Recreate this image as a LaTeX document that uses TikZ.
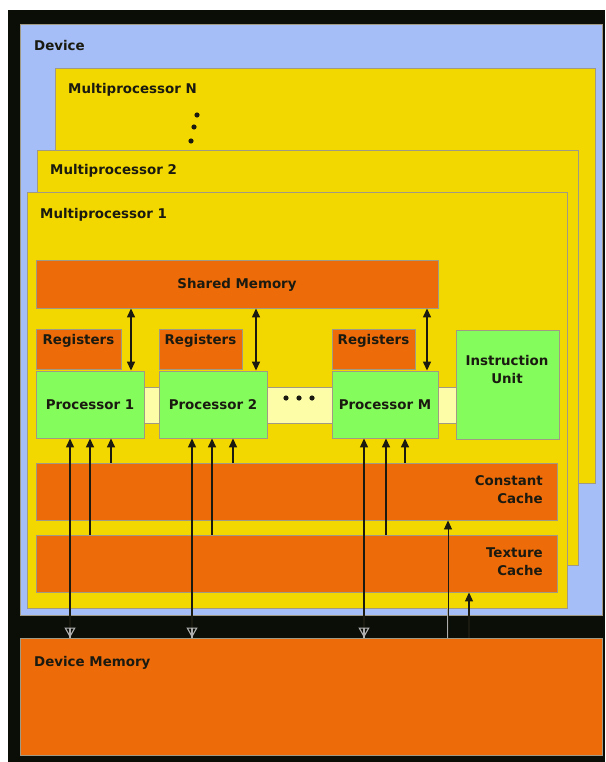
\documentclass[tikz,border=0pt]{standalone}
\usepackage{fontspec}
\setmainfont{DejaVu Sans}
\usetikzlibrary{arrows.meta,fit}
\definecolor{frameblk}{HTML}{0B0D07}
\definecolor{devblue}{HTML}{A6BEF7}
\definecolor{mpyellow}{HTML}{F3D800}
\definecolor{memorange}{HTML}{EE6B0A}
\definecolor{procgreen}{HTML}{84FC5C}
\definecolor{busyellow}{HTML}{FDFDA8}
\definecolor{edgegray}{HTML}{A09A84}
\definecolor{txt}{HTML}{1A1A10}
\begin{document}
\begin{tikzpicture}[x=1pt,y=-1pt,
  box/.style={draw=edgegray, line width=0.9pt, inner sep=0pt},
  lbl/.style={font=\fontsize{13.4}{18}\selectfont\bfseries, inner sep=0pt, text=txt},
  dblarrow/.style={line width=1.4pt, draw=txt, {Triangle[length=9pt,width=8pt]}-{Triangle[length=9pt,width=8pt]}},
  uparrow/.style={line width=1.5pt, draw=txt, -{Triangle[length=9pt,width=8pt]}},
  halo/.style={line width=2.8pt, draw=gray!65},
  longarrow/.style={line width=1.3pt, draw=txt, {Triangle[open,length=10pt,width=11pt,color=gray!60,line width=1.1pt]}-{Triangle[length=9pt,width=8pt]}},
  thinup/.style={line width=1.1pt, draw=txt, -{Triangle[length=9pt,width=8pt]}}
]
\useasboundingbox (0,0) rectangle (605,762);
\fill[white] (0,0) rectangle (605,762);
\node[fit={(8,10)(605,762)}, fill=frameblk, inner sep=0pt] (frame) {};
% device
\node[box, fill=devblue, fit={(20,24)(602,615)}] (dev) {};
\node[lbl, anchor=base west] (tdev) at (34,51) {Device};
% multiprocessors
\node[box, fill=mpyellow, fit={(55,68)(595,483)}] (mpn) {};
\node[lbl, anchor=base west] (tmpn) at (68,94) {Multiprocessor N};
\fill[txt] (197,115) circle (2.6) (194,127) circle (2.6) (191,141) circle (2.6);
\node[box, fill=mpyellow, fit={(37,150)(578,565)}] (mp2) {};
\node[lbl, anchor=base west] (tmp2) at (50,175) {Multiprocessor 2};
\node[box, fill=mpyellow, fit={(27,192)(567,608)}] (mp1) {};
\node[lbl, anchor=base west] (tmp1) at (40,218) {Multiprocessor 1};
% shared memory
\node[box, fill=memorange, fit={(36,260)(438,308)}] (sm) {};
\node[lbl] (tsm) at ([yshift=-1pt]sm.center) {Shared Memory};
% bus
\node[box, fill=busyellow, fit={(140,387)(460,423)}] (bus) {};
% registers
\node[box, fill=memorange, fit={(36,329)(121,369)}] (r1) {};
\node[lbl] (tr1) at (78.5,341) {Registers};
\node[box, fill=memorange, fit={(159,329)(242,369)}] (r2) {};
\node[lbl] (tr2) at (200.5,341) {Registers};
\node[box, fill=memorange, fit={(332,329)(415,369)}] (rm) {};
\node[lbl] (trm) at (373.5,341) {Registers};
% processors
\node[box, fill=procgreen, fit={(36,371)(144,438)}] (p1) {};
\node[lbl] (tp1) at (p1.center) {Processor 1};
\node[box, fill=procgreen, fit={(159,371)(267,438)}] (p2) {};
\node[lbl] (tp2) at (p2.center) {Processor 2};
\node[box, fill=procgreen, fit={(332,371)(438,438)}] (pm) {};
\node[lbl] (tpm) at (pm.center) {Processor M};
\fill[txt] (286,398) circle (2.6) (299,398) circle (2.6) (312,398) circle (2.6);
% instruction unit
\node[box, fill=procgreen, fit={(456,330)(559,439)}] (iu) {};
\node[lbl, align=center] (tiu) at (507,370) {Instruction\\Unit};
% caches
\node[box, fill=memorange, fit={(36,463)(557,520)}] (cc) {};
\node[lbl, align=right, anchor=east] (tcc) at (543,490) {Constant\\Cache};
\node[box, fill=memorange, fit={(36,535)(557,592)}] (tc) {};
\node[lbl, align=right, anchor=east] (ttc) at (543,562) {Texture\\Cache};
% device memory
\node[box, fill=memorange, fit={(20,638)(602,755)}] (dm) {};
\node[lbl, anchor=base west] (tdm) at (34,666) {Device Memory};
% arrow x positions
\coordinate (s1) at (131,0);
\coordinate (s2) at (256,0);
\coordinate (s3) at (427,0);
\coordinate (l1) at (70,0);
\coordinate (l2) at (192,0);
\coordinate (l3) at (364,0);
\coordinate (t1) at (90,0);
\coordinate (t2) at (212,0);
\coordinate (t3) at (386,0);
\coordinate (c1) at (111,0);
\coordinate (c2) at (233,0);
\coordinate (c3) at (405,0);
\coordinate (cm) at (448,0);
\coordinate (tm) at (469,0);
% shared memory <-> processors
\draw[dblarrow] (s1 |- sm.south) -- (s1 |- p1.north);
\draw[dblarrow] (s2 |- sm.south) -- (s2 |- p2.north);
\draw[dblarrow] (s3 |- sm.south) -- (s3 |- pm.north);
% constant cache -> processors
\draw[uparrow] (c1 |- cc.north) -- (c1 |- p1.south);
\draw[uparrow] (c2 |- cc.north) -- (c2 |- p2.south);
\draw[uparrow] (c3 |- cc.north) -- (c3 |- pm.south);
% texture cache -> processors
\draw[uparrow] (t1 |- tc.north) -- (t1 |- p1.south);
\draw[uparrow] (t2 |- tc.north) -- (t2 |- p2.south);
\draw[uparrow] (t3 |- tc.north) -- (t3 |- pm.south);
% device memory <-> processors
\draw[halo] (l1 |- dm.north) -- (l1 |- mp1.south);
\draw[halo] (l2 |- dm.north) -- (l2 |- mp1.south);
\draw[halo] (l3 |- dm.north) -- (l3 |- mp1.south);
\draw[longarrow] (l1 |- dm.north) -- (l1 |- p1.south);
\draw[longarrow] (l2 |- dm.north) -- (l2 |- p2.south);
\draw[longarrow] (l3 |- dm.north) -- (l3 |- pm.south);
% device memory -> caches
\draw[halo, line width=2.2pt] (cm |- dm.north) -- (cm |- mp1.south);
\draw[halo, line width=2.4pt] (tm |- dm.north) -- (tm |- mp1.south);
\draw[thinup, line width=0.9pt] (cm |- dm.north) -- (cm |- cc.south);
\draw[thinup] (tm |- dm.north) -- (tm |- tc.south);
\end{tikzpicture}
\end{document}
